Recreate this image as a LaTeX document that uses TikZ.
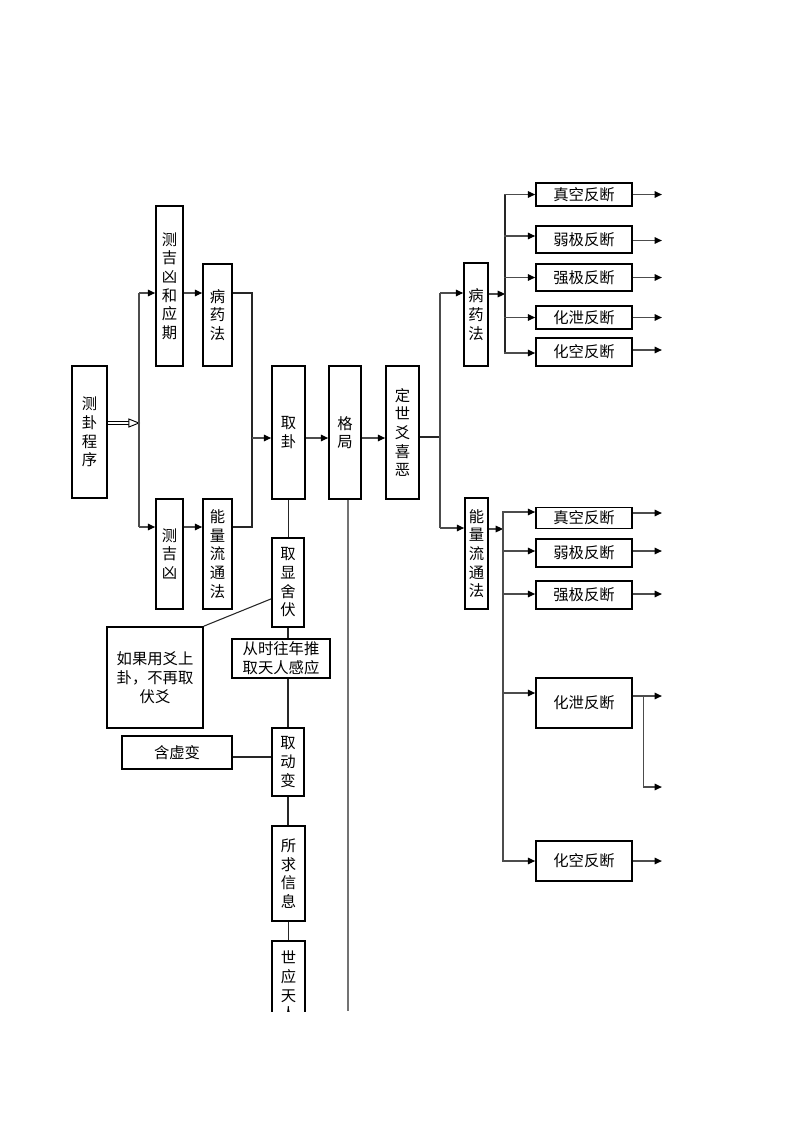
\documentclass[tikz,border=0pt]{standalone}
\usepackage{fontspec}
\newfontfamily\cjk{Noto Sans CJK SC}
\usetikzlibrary{arrows.meta,calc}
\begin{document}
\begin{tikzpicture}[x=0.75pt,y=-0.75pt,
  bx/.style={draw, line width=1.3pt, inner sep=0pt, align=center, font=\cjk\fontsize{11.5}{14}\selectfont},
  sz/.style 2 args={minimum width=#1*0.75pt, minimum height=#2*0.75pt},
  ln/.style={line width=0.8pt, black!85},
  lng/.style={line width=0.9pt, black!55},
  arr/.style={line width=0.8pt, black!70, -{Triangle[length=5.5pt,width=5pt,color=black]}}]
\useasboundingbox (0,0) rectangle (793,1122);
\clip (0,0) rectangle (793,1011);
% left part
\node[bx,sz={35}{132}] (cgcx) at (89.5,432) {测\\卦\\程\\序};
\node[bx,sz={27}{160}] (cjxyq) at (169.5,286) {测\\吉\\凶\\和\\应\\期};
\node[bx,sz={29}{102}] (byfa) at (217.5,315) {病\\药\\法};
\node[bx,sz={27}{110}] (cjx) at (169.5,554) {测\\吉\\凶};
\node[bx,sz={29}{110}] (nla) at (217.5,554) {能\\量\\流\\通\\法};
\node[bx,sz={33}{133}] (qg) at (288.5,432.5) {取\\卦};
\node[bx,sz={32}{133}] (gj) at (345,432.5) {格\\局};
\node[bx,sz={33}{133}] (dsy) at (402.5,432.5) {定\\世\\爻\\喜\\恶};
% lower column
\node[bx,sz={32}{89}] (qxsf) at (288,582.5) {取\\显\\舍\\伏};
\node[bx,sz={96}{101}] (rg) at (155,677.5) {如果用爻上\\卦，不再取\\伏爻};
\node[bx,sz={98}{39}] (csw) at (281,658.5) {从时往年推\\取天人感应};
\node[bx,sz={32}{68}] (qdb) at (288,762) {取\\动\\变};
\node[bx,sz={110}{33}] (hxb) at (177,752.5) {含虚变};
\node[bx,sz={33}{95}] (sqxx) at (288.5,873.5) {所\\求\\信\\息};
\node[bx,sz={33}{90}] (syt) at (288.5,986) {世\\应\\天\\人};
% right part
\node[bx,sz={24}{103}] (byfb) at (476,314.5) {病\\药\\法};
\node[bx,sz={23}{111}] (nlb) at (476.5,553.5) {能\\量\\流\\通\\法};
\node[bx,sz={96}{23}] (a1) at (584,194.5) {真空反断};
\node[bx,sz={96}{27}] (a2) at (584,239.5) {弱极反断};
\node[bx,sz={96}{27}] (a3) at (584,277.5) {强极反断};
\node[bx,sz={96}{23}] (a4) at (584,317.5) {化泄反断};
\node[bx,sz={96}{28}] (a5) at (584,352) {化空反断};
\node[bx,sz={96}{21}] (b1) at (584,518) {真空反断};
\node[bx,sz={96}{28}] (b2) at (584,553) {弱极反断};
\node[bx,sz={96}{28}] (b3) at (584,595) {强极反断};
\node[bx,sz={96}{50}] (b4) at (584,703) {化泄反断};
\node[bx,sz={96}{40}] (b5) at (584,861) {化空反断};
% hollow double arrow
\coordinate (h0) at ($(cgcx.east)+(0,-9)$);
\draw[line width=0.7pt] ($(h0)+(0,-1.8)$) -- ++(22,0);
\draw[line width=0.7pt] ($(h0)+(0,1.8)$) -- ++(22,0);
\draw[line width=0.7pt, fill=white] ($(h0)+(21,-4)$) -- ($(h0)+(31,0)$) -- ($(h0)+(21,4)$) -- cycle;
% left trunk
\coordinate (ta) at (139,293);
\coordinate (tb) at (139,527);
\draw[arr, -] (ta) -- (tb);
\draw[arr] (ta) -- (ta -| cjxyq.west);
\draw[arr] (tb) -- (tb -| cjx.west);
\draw[arr] (ta -| cjxyq.east) -- (ta -| byfa.west);
\draw[arr] (tb -| cjx.east) -- (tb -| nla.west);
% merge to 取卦
\coordinate (ma) at (252,293);
\coordinate (mb) at (252,527);
\coordinate (mc) at (252,438);
\draw[ln] (ma -| byfa.east) -- (ma) -- (mb) -- (mb -| nla.east);
\draw[arr] (mc) -- (mc -| qg.west);
\draw[arr] (mc -| qg.east) -- (mc -| gj.west);
\draw[arr] (mc -| gj.east) -- (mc -| dsy.west);
% split after 定世爻喜恶
\coordinate (ra) at (440,293);
\coordinate (rb) at (440,528);
\coordinate (rc) at (440,437);
\draw[ln] (rc -| dsy.east) -- (rc);
\draw[arr, -] (ra) -- (rb);
\draw[arr] (ra) -- (ra -| byfb.west);
\draw[arr] (rb) -- (rb -| nlb.west);
% upper right trunk
\coordinate (ua) at (505,194);
\coordinate (ub) at (505,353);
\coordinate (uc) at (505,294);
\draw[arr] (uc -| byfb.east) -- (uc);
\draw[ln] (ua) -- (ub);
\foreach \n/\d in {a1/0,a2/-3.5,a3/0,a4/0,a5/1}{
  \draw[arr] ($(\n.west)+(-31,\d)$) -- ($(\n.west)+(0,\d)$);
}
\foreach \n/\d in {a1/0,a2/1,a3/0,a4/0,a5/-2}{
  \draw[arr] ($(\n.east)+(0,\d)$) -- ++(29,0);
}
% lower right trunk
\coordinate (va) at (503,512);
\coordinate (vb) at (503,861);
\coordinate (vc) at (503,529);
\draw[arr] (vc -| nlb.east) -- (vc);
\draw[arr, -] (va) -- (vb);
\foreach \n/\d in {b1/-6,b2/-2,b3/-1,b4/-10,b5/0}{
  \draw[arr] ($(\n.west)+(-33,\d)$) -- ($(\n.west)+(0,\d)$);
}
\foreach \n/\d in {b1/-5,b2/-2,b3/-1,b4/-7,b5/0}{
  \draw[arr] ($(\n.east)+(0,\d)$) -- ++(29,0);
}
\coordinate (bk) at ($(b4.east)+(11,-7)$);
\draw[arr] (bk) -- ++(0,91) -- ++(18,0);
% lower column connectors
\draw[ln] (qg.south) -- (qg.south |- qxsf.north);
\draw[ln] (qxsf.south) -- (qxsf.south |- csw.north);
\draw[ln] (csw.south -| qdb.north) -- (qdb.north);
\draw[ln] (qdb.south) -- (qdb.south |- sqxx.north);
\draw[ln] (sqxx.south) -- (sqxx.south |- syt.north);
\draw[ln] ($(qxsf.south west)+(0,-29)$) -- (rg.north east);
\coordinate (hy) at ($(hxb.east)+(0,4.5)$);
\draw[ln] (hy) -- (hy -| qdb.west);
\coordinate (gend) at (348,1011);
\draw[lng] (gend |- gj.south) -- (gend);
\end{tikzpicture}
\end{document}
